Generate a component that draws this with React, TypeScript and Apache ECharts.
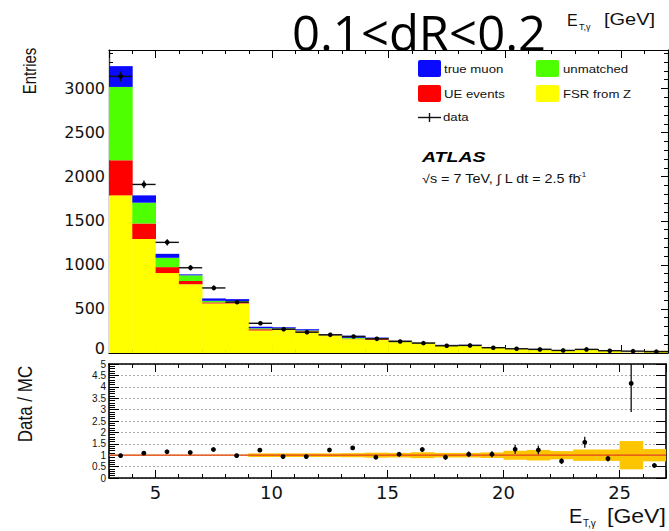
import React, { useEffect, useRef } from "react";
import * as echarts from "echarts";

// ---- data ----
const binLow = [3, 4, 5, 6, 7, 8, 9, 10, 11, 12, 13, 14, 15, 16, 17, 18, 19, 20, 21, 22, 23, 24, 25, 26];
const binWidth = 1;

const fsrFromZ = [1788, 1293, 907, 780, 562, 562, 254, 262, 245, 200, 157, 150, 135, 113, 88, 88, 63, 45, 45, 27, 38, 24, 5, 26];
const ueEvents = [398, 176, 67, 37, 12, 14, 16, 10, 5, 3, 5, 15, 3, 2, 2, 2, 1, 1, 1, 1, 1, 1, 0.5, 1];
const unmatched = [832, 236, 106, 64, 18, 12, 11, 8, 6, 4, 10, 6, 2, 2, 1, 1, 1, 1, 1, 0.5, 0.5, 0.5, 0.3, 0.5];
const trueMuon = [236, 83, 45, 11, 27, 23, 18, 12, 14, 7, 24, 5, 2, 2, 2, 2, 2, 1, 1, 1, 1, 1, 0.5, 1];

const dataCounts = [3138, 1912, 1255, 967, 738, 577, 337, 270, 236, 206, 187, 161, 131, 112, 82, 86, 60, 48, 41, 29, 41, 26, 21, 15];
const dataErr = [56, 44, 35, 31, 27, 24, 18, 16, 15, 14, 14, 13, 11, 11, 9, 9, 8, 7, 6, 5, 6, 5, 5, 4];

const ratio = [0.98, 1.09, 1.15, 1.12, 1.25, 0.98, 1.22, 0.94, 0.94, 1.23, 1.32, 0.91, 1.04, 1.25, 0.91, 1.04, 1.04, 1.26, 1.23, 0.74, 1.57, 0.85, 4.15, 0.55];
const ratioErr = [0.02, 0.03, 0.03, 0.04, 0.04, 0.04, 0.06, 0.06, 0.07, 0.08, 0.08, 0.09, 0.1, 0.1, 0.11, 0.12, 0.13, 0.2, 0.19, 0.13, 0.24, 0.13, 1.26, 0.1];
const mcBandErr = [0.015, 0.015, 0.015, 0.015, 0.015, 0.015, 0.08, 0.08, 0.08, 0.08, 0.09, 0.11, 0.1, 0.13, 0.1, 0.1, 0.12, 0.2, 0.23, 0.18, 0.25, 0.25, 0.62, 0.27];

const xRange = [3, 27];
const entriesRange = [0, 3437];
const ratioRange = [0, 5];

const layers = [
  { name: "FSR from Z", values: fsrFromZ, color: "#ffff00" },
  { name: "UE events", values: ueEvents, color: "#ff0000" },
  { name: "unmatched", values: unmatched, color: "#4dff00" },
  { name: "true muon", values: trueMuon, color: "#0a0aff" },
];

const AX = "#000";

function stackLayer(idx: number) {
  return binLow.map((lo, i) => {
    let base = 0;
    for (let k = 0; k < idx; k++) base += layers[k].values[i];
    return [lo, lo + binWidth, base, base + layers[idx].values[i]];
  });
}

const rectRender = (color: string) => (params: any, api: any) => {
  const a = api.coord([api.value(0), api.value(2)]);
  const b = api.coord([api.value(1), api.value(3)]);
  return {
    type: "rect",
    shape: { x: a[0], y: b[1], width: b[0] - a[0] + 0.4, height: a[1] - b[1] },
    style: { fill: color },
  };
};

function xAxisCfg(grid: number, pos: string, labels: boolean, lw: number) {
  return {
    type: "value",
    gridIndex: grid,
    position: pos,
    min: xRange[0],
    max: xRange[1],
    splitNumber: 5,
    axisLine: { show: true, onZero: false, lineStyle: { color: AX, width: lw } },
    axisTick: { show: true, inside: true, length: 8, lineStyle: { color: AX, width: 1 } },
    minorTick: { show: true, splitNumber: 5, length: 4, lineStyle: { color: AX, width: 1 } },
    splitLine: { show: false },
    axisLabel: labels
      ? {
          show: true,
          margin: 5,
          fontSize: 18,
          fontFamily: "DejaVu Sans",
          color: "#111",
          formatter: (v: number) => (v % 5 === 0 ? String(v) : ""),
        }
      : { show: false },
  };
}

export default function App() {
  const ref = useRef<HTMLDivElement>(null);
  useEffect(() => {
    if (!ref.current) return;
    const chart = echarts.init(ref.current, null, { renderer: "svg" });

    const histSeries = layers.map((l, idx) => ({
      type: "custom",
      name: l.name,
      xAxisIndex: 0,
      yAxisIndex: 0,
      z: 2,
      clip: true,
      renderItem: rectRender(l.color),
      encode: { x: [0, 1], y: [2, 3] },
      data: stackLayer(idx),
    }));

    const dataPoints = binLow.map((lo, i) => [lo + binWidth / 2, lo, lo + binWidth, dataCounts[i], dataErr[i]]);
    const ratioPoints = binLow.map((lo, i) => [lo + binWidth / 2, ratio[i], ratioErr[i]]);
    const bandData = binLow.map((lo, i) => [lo, lo + binWidth, 1 - mcBandErr[i], 1 + mcBandErr[i]]);

    const option: any = {
      animation: false,
      backgroundColor: "#fff",
      grid: [
        { left: 109, top: 50, width: 559, height: 303, show: false },
        { left: 109, top: 364, width: 559, height: 114, show: false },
      ],
      xAxis: [
        xAxisCfg(0, "bottom", false, 1.2),
        xAxisCfg(0, "top", false, 1.2),
        xAxisCfg(1, "bottom", true, 1.6),
        xAxisCfg(1, "top", false, 1.6),
      ],
      yAxis: [
        {
          type: "value",
          gridIndex: 0,
          position: "left",
          min: entriesRange[0],
          max: entriesRange[1],
          interval: 500,
          axisLine: { show: true, onZero: false, lineStyle: { color: "#444", width: 1.4 } },
          axisTick: { show: true, inside: true, length: 8, lineStyle: { color: AX } },
          minorTick: { show: true, splitNumber: 5, length: 4, lineStyle: { color: AX } },
          splitLine: { show: false },
          axisLabel: {
            margin: 4,
            fontSize: 16,
            fontFamily: "DejaVu Sans",
            color: "#111",
            formatter: (v: number) => (v === 0 ? "{z|0}" : v % 500 === 0 ? String(v) : ""),
            rich: { z: { fontSize: 16, fontFamily: "DejaVu Sans", color: "#111", padding: [0, 0, 10, 0] } },
          },
        },
        {
          type: "value",
          gridIndex: 0,
          position: "right",
          min: entriesRange[0],
          max: entriesRange[1],
          interval: 500,
          axisLine: { show: true, onZero: false, lineStyle: { color: AX, width: 1.2 } },
          axisTick: { show: true, inside: true, length: 7, lineStyle: { color: AX } },
          minorTick: { show: true, splitNumber: 5, length: 4, lineStyle: { color: AX } },
          splitLine: { show: false },
          axisLabel: { show: false },
        },
        {
          type: "value",
          gridIndex: 1,
          position: "left",
          min: ratioRange[0],
          max: ratioRange[1],
          interval: 0.5,
          axisLine: { show: true, onZero: false, lineStyle: { color: AX, width: 1.6 } },
          axisTick: { show: true, inside: true, length: 10, lineStyle: { color: AX } },
          minorTick: { show: true, splitNumber: 5, length: 6, lineStyle: { color: AX } },
          splitLine: { show: true, lineStyle: { color: "#a8a8a8", type: [2, 2], width: 1 } },
          axisLabel: {
            margin: 3,
            fontSize: 10,
            lineHeight: 10,
            fontFamily: "Liberation Sans",
            color: "#111",
            formatter: (v: number) => String(v),
          },
        },
        {
          type: "value",
          gridIndex: 1,
          position: "right",
          min: ratioRange[0],
          max: ratioRange[1],
          interval: 0.5,
          axisLine: { show: true, onZero: false, lineStyle: { color: AX, width: 1.6 } },
          axisTick: { show: true, inside: true, length: 10, lineStyle: { color: AX } },
          splitLine: { show: false },
          axisLabel: { show: false },
        },
      ],
      series: [
        ...histSeries,
        {
          type: "custom",
          name: "data",
          xAxisIndex: 0,
          yAxisIndex: 0,
          z: 5,
          clip: true,
          encode: { x: 0, y: 3 },
          data: dataPoints,
          renderItem: (params: any, api: any) => {
            const x = api.value(0), lo = api.value(1), hi = api.value(2), v = api.value(3), e = api.value(4);
            const pL = api.coord([lo, v]);
            const pR = api.coord([hi, v]);
            const pT = api.coord([x, v + e]);
            const pB = api.coord([x, v - e]);
            return {
              type: "group",
              children: [
                { type: "line", shape: { x1: pL[0], y1: pL[1], x2: pR[0], y2: pR[1] }, style: { stroke: "#111", lineWidth: 1.4 } },
                { type: "line", shape: { x1: pT[0], y1: pT[1], x2: pB[0], y2: pB[1] }, style: { stroke: "#111", lineWidth: 1.4 } },
                { type: "circle", shape: { cx: pL[0] + (pR[0] - pL[0]) / 2, cy: pL[1], r: 2.3 }, style: { fill: "#000" } },
              ],
            };
          },
        },
        {
          type: "custom",
          name: "MC uncertainty",
          xAxisIndex: 2,
          yAxisIndex: 2,
          z: 2,
          clip: true,
          renderItem: rectRender("#fcc500"),
          encode: { x: [0, 1], y: [2, 3] },
          data: bandData,
        },
        {
          type: "line",
          name: "unity",
          xAxisIndex: 2,
          yAxisIndex: 2,
          z: 3,
          symbol: "none",
          lineStyle: { color: "#e2401c", width: 1.2 },
          data: [
            [xRange[0], 1],
            [xRange[1], 1],
          ],
        },
        {
          type: "custom",
          name: "ratio",
          xAxisIndex: 2,
          yAxisIndex: 2,
          z: 5,
          clip: true,
          encode: { x: 0, y: 1 },
          data: ratioPoints,
          renderItem: (params: any, api: any) => {
            const x = api.value(0), v = api.value(1), e = api.value(2);
            const c = api.coord([x, v]);
            const pT = api.coord([x, v + e]);
            const pB = api.coord([x, v - e]);
            return {
              type: "group",
              children: [
                { type: "line", shape: { x1: pT[0], y1: pT[1], x2: pB[0], y2: pB[1] }, style: { stroke: "#111", lineWidth: 1.3 } },
                { type: "circle", shape: { cx: c[0], cy: c[1], r: 2.4 }, style: { fill: "#000" } },
              ],
            };
          },
        },
      ],
      graphic: {
        elements: [
          {
            type: "text",
            x: 419,
            y: 32,
            z: 100,
            style: { text: "0.1<dR<0.2", fontSize: 49, fontFamily: "Open Sans", fill: "#000", align: "center", verticalAlign: "middle" },
          },
          // top axis title
          { type: "text", x: 567, y: 20, z: 100, style: { text: "E", fontSize: 16, fontFamily: "Liberation Sans", fill: "#111", align: "left", verticalAlign: "middle" } },
          { type: "text", x: 579, y: 27, z: 100, style: { text: "T,γ", fontSize: 9, fontFamily: "Liberation Sans", fill: "#111", align: "left", verticalAlign: "middle" } },
          { type: "text", x: 604, y: 20, z: 100, scaleX: 1.25, style: { text: "[GeV]", fontSize: 16, fontFamily: "Liberation Sans", fill: "#111", align: "left", verticalAlign: "middle" } },
          // bottom axis title
          { type: "text", x: 569, y: 516, z: 100, style: { text: "E", fontSize: 20, fontFamily: "Liberation Sans", fill: "#111", align: "left", verticalAlign: "middle" } },
          { type: "text", x: 583, y: 523, z: 100, style: { text: "T,γ", fontSize: 10, fontFamily: "Liberation Sans", fill: "#111", align: "left", verticalAlign: "middle" } },
          { type: "text", x: 607, y: 516, z: 100, scaleX: 1.15, style: { text: "[GeV]", fontSize: 20, fontFamily: "Liberation Sans", fill: "#111", align: "left", verticalAlign: "middle" } },
          // y titles
          { type: "text", x: 30, y: 71, z: 100, rotation: Math.PI / 2, scaleY: 1.2, style: { text: "Entries", fontSize: 15, fontFamily: "Liberation Sans", fill: "#111", align: "center", verticalAlign: "middle" } },
          { type: "text", x: 25, y: 404, z: 100, rotation: Math.PI / 2, scaleY: 1.2, style: { text: "Data / MC", fontSize: 17, fontFamily: "Liberation Sans", fill: "#111", align: "center", verticalAlign: "middle" } },
          // legend
          { type: "rect", z: 100, shape: { x: 418, y: 60, width: 23, height: 17, r: 2 }, style: { fill: layers[3].color } },
          { type: "text", x: 444, y: 69, z: 100, scaleX: 1.2, style: { text: layers[3].name, fontSize: 11, fontFamily: "Liberation Sans", fill: "#111", verticalAlign: "middle" } },
          { type: "rect", z: 100, shape: { x: 536, y: 60, width: 23, height: 17, r: 2 }, style: { fill: layers[2].color } },
          { type: "text", x: 563, y: 69, z: 100, scaleX: 1.2, style: { text: layers[2].name, fontSize: 11, fontFamily: "Liberation Sans", fill: "#111", verticalAlign: "middle" } },
          { type: "rect", z: 100, shape: { x: 418, y: 85, width: 23, height: 17, r: 2 }, style: { fill: layers[1].color } },
          { type: "text", x: 444, y: 94, z: 100, scaleX: 1.2, style: { text: layers[1].name, fontSize: 11, fontFamily: "Liberation Sans", fill: "#111", verticalAlign: "middle" } },
          { type: "rect", z: 100, shape: { x: 536, y: 85, width: 23, height: 17, r: 2 }, style: { fill: layers[0].color } },
          { type: "text", x: 563, y: 94, z: 100, scaleX: 1.2, style: { text: layers[0].name, fontSize: 11, fontFamily: "Liberation Sans", fill: "#111", verticalAlign: "middle" } },
          { type: "line", z: 100, shape: { x1: 418, y1: 117.5, x2: 441, y2: 117.5 }, style: { stroke: "#111", lineWidth: 1.4 } },
          { type: "line", z: 100, shape: { x1: 429.5, y1: 113, x2: 429.5, y2: 122 }, style: { stroke: "#111", lineWidth: 1.4 } },
          { type: "text", x: 443, y: 117, z: 100, scaleX: 1.2, style: { text: "data", fontSize: 11, fontFamily: "Liberation Sans", fill: "#111", verticalAlign: "middle" } },
          // ATLAS label
          { type: "text", x: 422, y: 157, z: 100, scaleX: 1.3, style: { text: "ATLAS", fontSize: 15, fontWeight: "bold", fontStyle: "italic", fontFamily: "Liberation Sans", fill: "#000", verticalAlign: "middle" } },
          { type: "text", x: 422, y: 179, z: 100, scaleX: 1.2, style: { text: "√s = 7 TeV, ∫ L dt = 2.5 fb", fontSize: 12, fontFamily: "Liberation Sans", fill: "#111", verticalAlign: "middle" } },
          { type: "text", x: 579, y: 174, z: 100, style: { text: "-1", fontSize: 8, fontFamily: "Liberation Sans", fill: "#111", verticalAlign: "middle" } },
        ],
      },
    };

    chart.setOption(option);
    return () => chart.dispose();
  }, []);

  return <div ref={ref} style={{ position: "fixed", left: 0, top: 0, width: 669, height: 531, background: "#fff" }} />;
}
